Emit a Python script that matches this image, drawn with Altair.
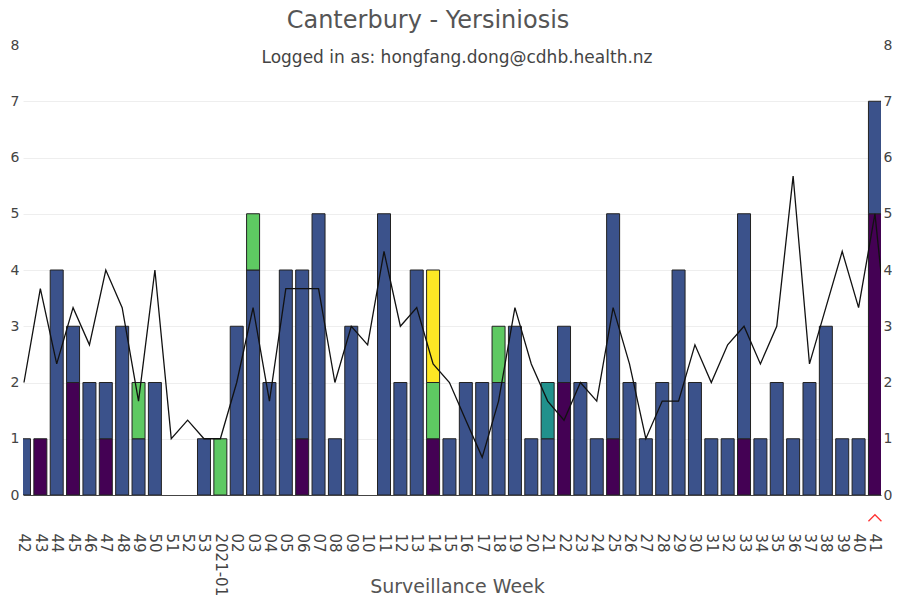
import json
import altair as alt
import pandas as pd

# ---- data -------------------------------------------------------------
weeks = ['42', '43', '44', '45', '46', '47', '48', '49', '50', '51', '52', '53',
         '2021-01', '02', '03', '04', '05', '06', '07', '08', '09', '10', '11',
         '12', '13', '14', '15', '16', '17', '18', '19', '20', '21', '22', '23',
         '24', '25', '26', '27', '28', '29', '30', '31', '32', '33', '34', '35',
         '36', '37', '38', '39', '40', '41']

groups = ['Group 1', 'Group 2', 'Group 3', 'Group 4', 'Group 5']
group_colors = ['#440154', '#3b528b', '#21918c', '#5ec962', '#fde725']

group1 = [0, 1, 0, 2, 0, 1, 0, 0, 0, 0, 0, 0, 0, 0, 0, 0, 0, 1, 0, 0, 0, 0, 0,
          0, 0, 1, 0, 0, 0, 0, 0, 0, 0, 2, 0, 0, 1, 0, 0, 0, 0, 0, 0, 0, 1, 0,
          0, 0, 0, 0, 0, 0, 5]
group2 = [1, 0, 4, 1, 2, 1, 3, 1, 2, 0, 0, 1, 0, 3, 4, 2, 4, 3, 5, 1, 3, 0, 5,
          2, 4, 0, 1, 2, 2, 2, 3, 1, 1, 1, 2, 1, 4, 2, 1, 2, 4, 2, 1, 1, 4, 1,
          2, 1, 2, 3, 1, 1, 2]
group3 = [0] * 32 + [1] + [0] * 20
group4 = [0, 0, 0, 0, 0, 0, 0, 1, 0, 0, 0, 0, 1, 0, 1, 0, 0, 0, 0, 0, 0, 0, 0,
          0, 0, 1, 0, 0, 0, 1, 0, 0, 0, 0, 0, 0, 0, 0, 0, 0, 0, 0, 0, 0, 0, 0,
          0, 0, 0, 0, 0, 0, 0]
group5 = [0] * 25 + [2] + [0] * 27

# black reference line (one extra point beyond the last week, clipped)
line_values = [2, 3.67, 2.33, 3.33, 2.67, 4, 3.33, 1.67, 4, 1, 1.33, 1, 1, 2,
               3.33, 1.67, 3.67, 3.67, 3.67, 2, 3, 2.67, 4.33, 3, 3.33, 2.33,
               2, 1.33, 0.67, 1.67, 3.33, 2.33, 1.67, 1.33, 2, 1.67, 3.33, 2.33,
               1, 1.67, 1.67, 2.67, 2, 2.67, 3, 2.33, 3, 5.67, 2.33, 3.33, 4.33,
               3.33, 5, 2.17]

current_week = '41'
title_text = 'Canterbury - Yersiniosis'
subtitle_text = 'Logged in as: hongfang.dong@cdhb.health.nz'
y_ticks = [0, 1, 2, 3, 4, 5, 6, 7, 8]

# ---- tables ------------------------------------------------------------
series = [group1, group2, group3, group4, group5]
rows = []
for k, (g, vals) in enumerate(zip(groups, series)):
    for i, v in enumerate(vals):
        if v > 0:
            rows.append({'idx': i, 'week': weeks[i], 'group': g, 'order': k, 'count': v})
bars_df = pd.DataFrame(rows)
line_df = pd.DataFrame({'idx': list(range(len(line_values))), 'value': line_values})
marker_df = pd.DataFrame({'idx': [weeks.index(current_week)]})

W, H = 858, 450
FONT = 'DejaVu Sans'
label_expr = json.dumps(weeks) + '[datum.value]'

x_scale = alt.Scale(domain=[-0.06, 52.37], nice=False, zero=False, padding=0)
y_scale = alt.Scale(domain=[0, 8], nice=False)

x_axis = alt.Axis(values=list(range(len(weeks))), labelExpr=label_expr,
                  labelAngle=90, labelPadding=38, labelFontSize=15,
                  labelFont=FONT, labelColor='#444', labelFlush=False,
                  labelOverlap=False, labelBound=False, ticks=False, grid=False,
                  domainColor='#444', domainWidth=1,
                  title='Surveillance Week', titleFontSize=19, titleFont=FONT,
                  titleFontWeight='normal', titleColor='#555',
                  titleX=434, titleAlign='center',
                  titleY=91, titleBaseline='middle')

y_axis_left = alt.Axis(values=y_ticks, orient='left', domain=False, ticks=False,
                       labelPadding=4, labelFontSize=14, labelFont=FONT,
                       labelColor='#444', title=None, gridColor='#eeeeee',
                       gridOpacity={'condition': {'test': 'datum.value == 8', 'value': 0},
                                    'value': 1})
y_axis_right = alt.Axis(values=y_ticks, orient='right', domain=False, ticks=False,
                        labelPadding=2, labelFontSize=14, labelFont=FONT,
                        labelColor='#444', title=None, grid=False)

bars = alt.Chart(bars_df).mark_bar(size=13, stroke='#222', strokeWidth=1, clip=True).encode(
    x=alt.X('idx:Q', scale=x_scale, axis=x_axis),
    y=alt.Y('sum(count):Q', scale=y_scale, axis=y_axis_left, stack='zero'),
    color=alt.Color('group:N', scale=alt.Scale(domain=groups, range=group_colors), legend=None),
    order=alt.Order('order:Q', sort='ascending'),
)

line = alt.Chart(line_df).mark_line(color='#111', strokeWidth=1.3, clip=True).encode(
    x=alt.X('idx:Q', scale=x_scale, axis=x_axis),
    y=alt.Y('value:Q', scale=y_scale, axis=y_axis_right),
)

marker = alt.Chart(marker_df).mark_point(
    shape='M-1,0.5L0,-0.5L1,0.5', filled=False, stroke='#ff3333',
    strokeWidth=1.3, size=169, opacity=1).encode(
    x=alt.X('idx:Q', scale=x_scale, axis=x_axis),
    y=alt.value(H + 23),
)

title = alt.Chart(pd.DataFrame({'t': [title_text]})).mark_text(
    font=FONT, fontSize=24, color='#555', baseline='middle', align='center').encode(
    text='t:N', x=alt.value(405), y=alt.value(-24))

subtitle = alt.Chart(pd.DataFrame({'t': [subtitle_text]})).mark_text(
    font=FONT, fontSize=17, color='#444', baseline='middle', align='center').encode(
    text='t:N', x=alt.value(434), y=alt.value(13))

chart = alt.layer(bars, line, marker, title, subtitle).resolve_axis(
    y='independent').properties(
    width=W, height=H,
    autosize=alt.AutoSizeParams(type='none'),
    padding={'left': 15, 'top': 37, 'right': 11, 'bottom': 101},
).configure(background='white').configure_view(stroke=None)

chart.save('out.html', embed_options={'renderer': 'svg', 'actions': False})
